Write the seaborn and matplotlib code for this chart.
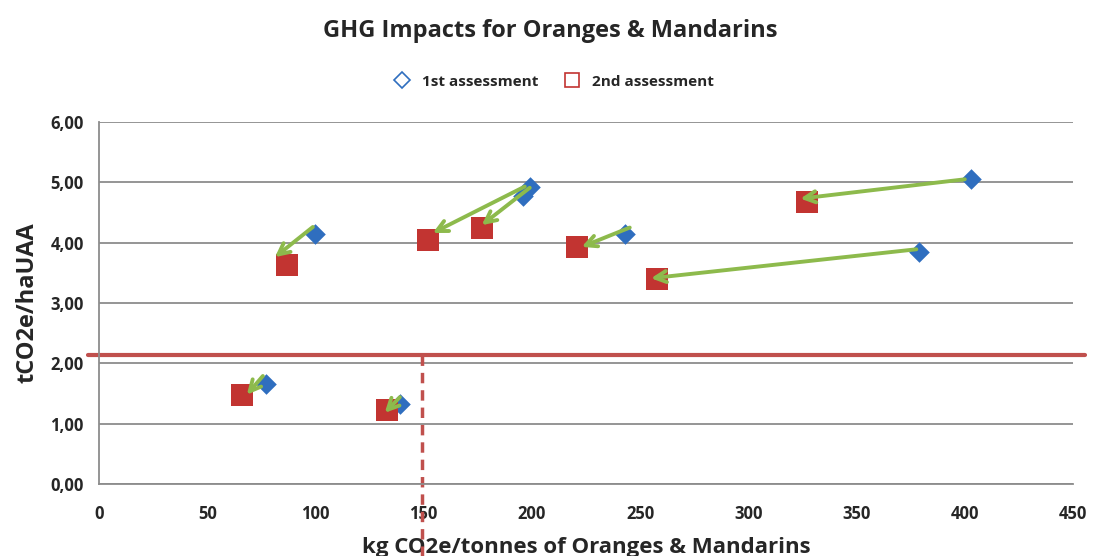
import numpy as np
import pandas as pd
import matplotlib
matplotlib.use("Agg")
import matplotlib.pyplot as plt
from matplotlib.lines import Line2D
from matplotlib.ticker import FuncFormatter
import seaborn as sns

# data
first_x = [100, 199, 196, 243, 403, 379, 77, 139]
first_y = [4.15, 4.93, 4.78, 4.15, 5.05, 3.85, 1.65, 1.33]
second_x = [87, 152, 177, 221, 327, 258, 66, 133]
second_y = [3.63, 4.05, 4.25, 3.93, 4.67, 3.40, 1.47, 1.22]

# hand-drawn arrows (tail -> tip)
arrow_tail_x = [98.8, 196.7, 199, 245.2, 400, 377.6, 75.7, 139]
arrow_tail_y = [4.26, 4.93, 4.91, 4.25, 5.05, 3.89, 1.79, 1.44]
arrow_tip_x = [81.3, 154.2, 176.8, 223, 324, 255, 68.3, 132]
arrow_tip_y = [3.76, 4.16, 4.29, 3.93, 4.73, 3.41, 1.48, 1.18]

threshold_y = 2.14
threshold_x = 149

x_ticks = [0, 50, 100, 150, 200, 250, 300, 350, 400, 450]
y_ticks = [0, 1, 2, 3, 4, 5, 6]

blue = "#2F6EBF"
red = "#C23431"
green = "#8DBA4C"
line_red = "#C0504D"

sns.set_theme(style="white")
plt.rcParams["font.family"] = ["Open Sans", "DejaVu Sans"]

fig = plt.figure(figsize=(11, 5.56), dpi=100)
ax = fig.add_axes([0.09, 0.1295, 0.8855, 0.6511])

df1 = pd.DataFrame({"x": first_x, "y": first_y})
df2 = pd.DataFrame({"x": second_x, "y": second_y})

sns.scatterplot(data=df1, x="x", y="y", marker="D", s=110, color=blue,
                edgecolor=blue, linewidth=0, ax=ax, zorder=3, legend=False)
sns.scatterplot(data=df2, x="x", y="y", marker="s", s=230, color=red,
                edgecolor=red, linewidth=0, ax=ax, zorder=3, legend=False)

# arrows from 1st to 2nd assessment
for x0, y0, x1, y1 in zip(arrow_tail_x, arrow_tail_y, arrow_tip_x, arrow_tip_y):
    ax.annotate("", xy=(x1, y1), xytext=(x0, y0),
                arrowprops=dict(arrowstyle="->", color=green, lw=2.8,
                                mutation_scale=20, shrinkA=0, shrinkB=0),
                zorder=4)

ax.set_xlim(0, 450)
ax.set_ylim(0, 6)
ax.set_xticks(x_ticks)
ax.set_yticks(y_ticks)
ax.yaxis.set_major_formatter(FuncFormatter(lambda v, p: f"{v:.2f}".replace(".", ",")))
ax.tick_params(axis="both", labelsize=12, length=5, width=1.2, color="#888888",
               direction="out", pad=6)
ax.tick_params(axis="x", pad=10)
for lab in ax.get_xticklabels() + ax.get_yticklabels():
    lab.set_fontweight("bold")

ax.grid(axis="y", color="#8c8c8c", lw=1.3)
ax.set_axisbelow(True)
for s in ["top", "right"]:
    ax.spines[s].set_visible(False)
for s in ["left", "bottom"]:
    ax.spines[s].set_color("#8c8c8c")
    ax.spines[s].set_linewidth(1.3)

# threshold lines
ax.plot([-5, 455.5], [threshold_y, threshold_y], color=line_red, lw=3,
        clip_on=False, zorder=2)
ax.plot([threshold_x, threshold_x], [threshold_y, -1.3], color=line_red, lw=2.5,
        ls=(0, (3, 2)), clip_on=False, zorder=2)

ax.set_xlabel("kg CO2e/tonnes of Oranges & Mandarins", fontsize=16,
              fontweight="bold", labelpad=10)
ax.set_ylabel("tCO2e/haUAA", fontsize=17, fontweight="bold", labelpad=8)

fig.suptitle("GHG Impacts for Oranges & Mandarins", x=0.5, y=0.965,
             fontsize=17, fontweight="bold")

handles = [
    Line2D([], [], marker="D", ls="none", markerfacecolor="white",
           markeredgecolor=blue, markersize=8, markeredgewidth=1.2),
    Line2D([], [], marker="s", ls="none", markerfacecolor="white",
           markeredgecolor=red, markersize=10, markeredgewidth=1.2),
]
fig.legend(handles, ["1st assessment", "2nd assessment"], loc="center",
           bbox_to_anchor=(0.5, 0.853), ncol=2, frameon=False,
           prop={"weight": "bold", "size": 11}, handletextpad=0.3,
           columnspacing=1.2)

fig.savefig("out.png", dpi=100)
